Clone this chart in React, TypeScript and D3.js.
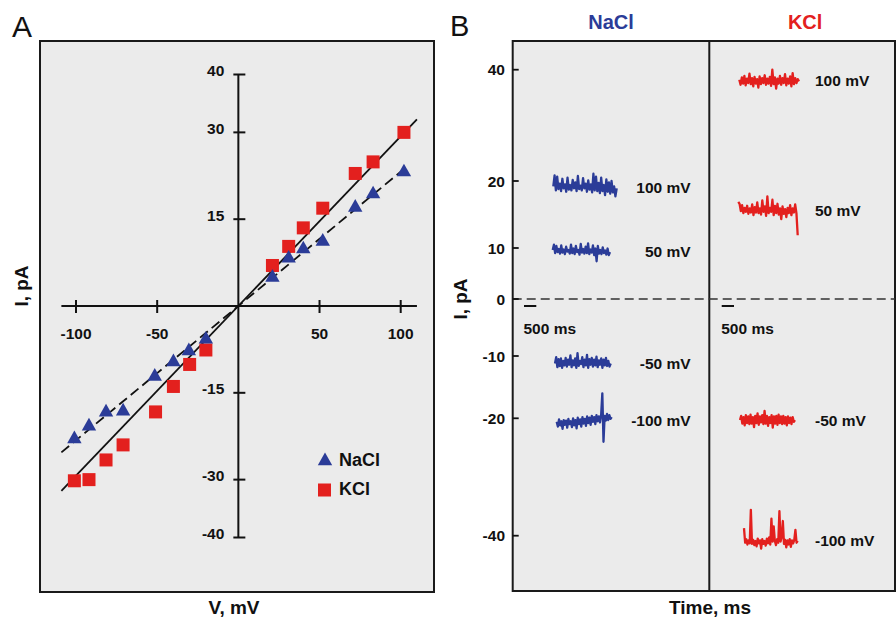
import React from 'react';
import * as d3 from 'd3';

// ---------- Panel A data ----------
const A_TICKS_V = [-100, -50, 50, 100];
const A_TICKS_I = [40, 30, 15, -15, -30, -40];
const V_NACL = [-101, -92, -81.5, -71, -51.5, -40, -30.5, -20, 21, 31, 40, 52, 72, 83, 102];
const I_NACL = [-22.8, -20.6, -18.2, -18.0, -12.0, -9.5, -7.6, -5.6, 5.1, 8.4, 10.0, 11.3, 17.2, 19.5, 23.3];
const V_KCL = [-101, -92, -81.5, -71, -51, -40, -30, -20, 21, 31, 40, 52, 72, 83, 102];
const I_KCL = [-30.2, -30.0, -26.6, -24.0, -18.3, -13.9, -10.1, -7.6, 7.0, 10.3, 13.5, 16.9, 22.9, 24.9, 30.0];
const FIT_SLOPE_NACL = 0.232;
const FIT_SLOPE_KCL = 0.293;
const FIT_RANGE_NACL = [-109, 104];
const FIT_RANGE_KCL = [-109, 110];
const LEGEND_NAMES = ['NaCl', 'KCl'];

// ---------- Panel B data ----------
const B_TICKS = [40, 20, 10, 0, -10, -20, -40];
const B_BREAKS = [-40, -20, -10, 0, 10, 20, 40];
const COLUMN_TITLES = ['NaCl', 'KCl'];
const TRACE_LABELS = ['100 mV', '50 mV', '-50 mV', '-100 mV'];
const SCALE_BAR_MS = 500;

const NACL_100 = [19.2, 21.0, 18.6, 20.8, 18.8, 19.6, 18.5, 20.4, 18.9, 19.5, 18.4, 20.6, 18.7, 19.4, 18.6, 20.2, 18.9, 19.8, 18.5, 20.9, 18.8, 19.3, 18.6, 20.5, 18.9, 19.6, 18.4, 20.1, 18.7, 19.5, 18.3, 21.3, 18.6, 20.8, 18.5, 19.7, 18.2, 20.6, 18.5, 19.4, 17.9, 20.3, 18.4, 19.8, 18.1, 20.0, 18.3, 19.2, 17.7, 18.9];
const NACL_50 = [9.6, 10.5, 9.0, 10.3, 9.2, 9.8, 8.9, 10.4, 9.1, 9.7, 8.8, 10.2, 9.3, 9.6, 8.9, 10.5, 9.0, 9.9, 8.8, 10.3, 9.2, 9.6, 8.7, 10.6, 9.1, 9.8, 8.9, 10.2, 9.0, 10.7, 8.8, 9.7, 9.1, 10.4, 8.6, 9.9, 7.4, 10.3, 8.9, 9.6, 8.8, 10.1, 9.0, 9.5, 8.7, 9.9, 8.6, 9.2];
const NACL_M50 = [-11.2, -10.2, -11.8, -10.5, -11.6, -10.4, -11.9, -10.8, -11.5, -10.3, -11.7, -10.6, -11.4, -9.9, -11.8, -10.7, -11.5, -10.4, -11.9, -9.5, -11.6, -10.8, -11.3, -10.2, -11.8, -10.6, -11.5, -9.8, -11.9, -10.5, -11.4, -10.3, -11.7, -10.6, -11.5, -10.1, -11.8, -10.7, -11.4, -10.4, -11.9, -10.6, -11.5, -10.3, -11.6, -10.8, -11.7, -11.2];
const NACL_M100 = [-20.6, -21.4, -20.2, -21.2, -20.5, -21.8, -20.3, -21.1, -20.4, -21.6, -20.1, -21.0, -20.5, -21.5, -20.0, -21.2, -20.3, -21.7, -19.9, -21.0, -20.2, -21.4, -19.8, -20.9, -20.1, -21.3, -19.7, -20.8, -19.9, -21.1, -19.6, -20.6, -19.8, -21.0, -19.5, -20.5, -19.7, -20.7, -19.4, -16.0, -24.0, -19.6, -20.4, -19.3, -20.3, -19.5, -20.1, -19.8];
const KCL_100 = [38.2, 37.3, 38.6, 37.5, 38.9, 37.2, 38.4, 37.6, 39.3, 37.4, 38.5, 37.0, 38.7, 37.5, 38.3, 36.8, 38.8, 37.4, 38.5, 37.6, 39.0, 37.3, 38.4, 37.5, 38.7, 37.1, 40.0, 37.4, 38.6, 36.6, 38.4, 37.5, 38.9, 37.3, 38.5, 37.6, 39.2, 37.2, 38.4, 37.5, 38.8, 37.0, 39.4, 37.4, 38.5, 37.6, 38.3, 37.9];
const KCL_50 = [16.9, 16.6, 15.5, 16.4, 15.2, 16.0, 15.4, 16.3, 15.1, 15.9, 15.3, 16.5, 14.9, 16.1, 15.3, 16.8, 15.2, 15.9, 15.0, 17.1, 15.4, 16.2, 14.8, 17.7, 15.2, 16.0, 15.4, 17.2, 14.9, 16.3, 15.2, 16.6, 15.0, 15.9, 14.3, 16.2, 15.1, 15.8, 14.6, 16.0, 15.2, 16.4, 14.9, 15.9, 15.3, 16.5, 15.2, 11.9];
const KCL_M50 = [-20.3, -19.6, -20.9, -19.8, -21.2, -19.5, -20.8, -19.7, -21.0, -19.4, -20.9, -19.8, -21.5, -19.6, -20.8, -19.2, -21.1, -19.7, -20.7, -19.5, -21.0, -18.8, -20.9, -19.6, -21.3, -19.8, -20.8, -19.5, -21.6, -19.7, -20.9, -19.6, -21.1, -19.4, -20.8, -19.7, -21.0, -19.6, -20.9, -19.8, -21.2, -19.7, -20.8, -19.9, -21.0, -19.8, -20.6, -20.3];
const KCL_M100 = [-38.7, -41.2, -40.6, -41.5, -40.8, -41.3, -35.6, -41.4, -40.7, -41.6, -40.9, -41.8, -40.5, -41.3, -40.8, -42.2, -40.6, -41.4, -40.9, -41.7, -40.5, -41.3, -40.3, -41.5, -37.1, -41.0, -38.4, -40.9, -41.6, -40.6, -41.2, -35.8, -41.0, -40.2, -37.5, -41.4, -40.7, -42.0, -40.8, -41.5, -40.6, -41.9, -40.8, -41.3, -40.7, -39.0, -41.2, -40.9];

const NACL_TRACES = [NACL_100, NACL_50, NACL_M50, NACL_M100];
const KCL_TRACES = [KCL_100, KCL_50, KCL_M50, KCL_M100];
const NACL_START_MS = [1652, 1628, 1721, 1790];
const NACL_END_MS = [4232, 3960, 3988, 4028];
const KCL_START_MS = [1221, 1180, 1249, 1412];
const KCL_END_MS = [3650, 3597, 3487, 3597];
const SCALE_BAR_START_MS = [460, 505];

const BLUE = '#2b3c98';
const RED = '#e3201e';
const BG = '#ebebeb';
const FONT = "Arial, 'Liberation Sans', Helvetica, sans-serif";

export default function App() {
  // Panel A scales
  const xA = d3.scaleLinear().domain([-100, 100]).range([76, 400.7]);
  const yA = d3.scaleLinear().domain([-40, 40]).range([537.5, 74.5]);

  const kclFit = d3.line<number>().x((v) => xA(v)).y((v) => yA(FIT_SLOPE_KCL * v));
  const naclFit = d3.line<number>().x((v) => xA(v)).y((v) => yA(FIT_SLOPE_NACL * v));

  const tri = (cx: number, cy: number) => `M${cx},${cy - 7.5}L${cx + 7.2},${cy + 5.2}L${cx - 7.2},${cy + 5.2}Z`;

  // Panel B scales
  const yB = d3.scaleLinear().domain(B_BREAKS).range([535.7, 418.3, 356, 299, 248, 181, 69.7]);
  const xN = d3.scaleLinear().domain([0, 8000]).range([512.7, 709.3]);
  const xK = d3.scaleLinear().domain([0, 8000]).range([709.3, 905.9]);

  const tracePath = (vals: number[], t0: number, t1: number, xs: d3.ScaleLinear<number, number>) => {
    const dt = (t1 - t0) / (vals.length - 1);
    return d3.line<number>().x((_, i) => xs(t0 + i * dt)).y((v) => yB(v))(vals) || '';
  };

  const frameA = { x0: 40, y0: 41, x1: 434, y1: 592 };
  const frameB = { x0: 512.7, y0: 41, x1: 895, y1: 591 };
  const divider = xN(8000);

  return (
    <svg width={896} height={621} style={{ position: 'absolute', left: 0, top: 0, background: '#fff' }} fontFamily={FONT}>
      {/* Panel letters */}
      <text x={12} y={36.5} fontSize={30} fill="#111">A</text>
      <text x={450} y={36} fontSize={29} fill="#111">B</text>

      {/* ---------------- Panel A ---------------- */}
      <rect x={frameA.x0} y={frameA.y0} width={frameA.x1 - frameA.x0} height={frameA.y1 - frameA.y0} fill={BG} stroke="#1a1a1a" strokeWidth={2} />
      <line x1={xA(-109)} x2={xA(110)} y1={yA(0)} y2={yA(0)} stroke="#111" strokeWidth={2} />
      <line x1={xA(0)} x2={xA(0)} y1={yA(40)} y2={yA(-40)} stroke="#111" strokeWidth={2} />
      {A_TICKS_V.map((v) => (
        <g key={'tv' + v}>
          <line x1={xA(v)} x2={xA(v)} y1={yA(0) - 6} y2={yA(0) + 7} stroke="#111" strokeWidth={2} />
          <text x={xA(v)} y={yA(0) + 33} fontSize={15.5} fontWeight="bold" textAnchor="middle" fill="#111">{v}</text>
        </g>
      ))}
      {A_TICKS_I.map((v) => (
        <g key={'ti' + v}>
          <line x1={xA(0) - 5} x2={xA(0) + 7} y1={yA(v)} y2={yA(v)} stroke="#111" strokeWidth={2} />
          <text x={xA(0) - 14} y={yA(v) + 1.5} fontSize={15.5} fontWeight="bold" textAnchor="end" fill="#111">{v}</text>
        </g>
      ))}
      <path d={kclFit(FIT_RANGE_KCL) || ''} stroke="#111" strokeWidth={1.8} fill="none" />
      <path d={naclFit(FIT_RANGE_NACL) || ''} stroke="#111" strokeWidth={1.8} fill="none" strokeDasharray="10,5" />
      {V_KCL.map((v, i) => (
        <rect key={'k' + i} x={xA(v) - 6.5} y={yA(I_KCL[i]) - 6.5} width={13} height={13} fill={RED} />
      ))}
      {V_NACL.map((v, i) => (
        <path key={'n' + i} d={tri(xA(v), yA(I_NACL[i]))} fill={BLUE} />
      ))}
      <path d={tri(325, 460)} fill={BLUE} />
      <text x={339} y={466} fontSize={18} fontWeight="bold" fill="#111">{LEGEND_NAMES[0]}</text>
      <rect x={318} y={483.5} width={13} height={13} fill={RED} />
      <text x={339} y={494.5} fontSize={18} fontWeight="bold" fill="#111">{LEGEND_NAMES[1]}</text>
      <text transform="translate(28,286) rotate(-90)" fontSize={19} fontWeight="bold" textAnchor="middle" fill="#111">I, pA</text>
      <text x={234} y={614} fontSize={19} fontWeight="bold" textAnchor="middle" fill="#111">V, mV</text>

      {/* ---------------- Panel B ---------------- */}
      <rect x={frameB.x0} y={frameB.y0} width={frameB.x1 - frameB.x0} height={frameB.y1 - frameB.y0} fill={BG} stroke="#1a1a1a" strokeWidth={2} />
      <line x1={divider} x2={divider} y1={frameB.y0} y2={frameB.y1} stroke="#1a1a1a" strokeWidth={2} />
      <line x1={frameB.x0} x2={frameB.x1} y1={yB(0)} y2={yB(0)} stroke="#333" strokeWidth={1.5} strokeDasharray="9,5" />
      {B_TICKS.map((v) => (
        <g key={'tb' + v}>
          <line x1={frameB.x0} x2={frameB.x0 + 6} y1={yB(v)} y2={yB(v)} stroke="#111" strokeWidth={1.8} />
          <text x={505} y={yB(v) + 5.5} fontSize={15.5} fontWeight="bold" textAnchor="end" fill="#111">{v}</text>
        </g>
      ))}
      <text x={(frameB.x0 + divider) / 2} y={29} fontSize={20} fontWeight="bold" textAnchor="middle" fill={BLUE}>{COLUMN_TITLES[0]}</text>
      <text x={(divider + frameB.x1) / 2 + 3} y={29} fontSize={20} fontWeight="bold" textAnchor="middle" fill={RED}>{COLUMN_TITLES[1]}</text>

      <line x1={xN(SCALE_BAR_START_MS[0])} x2={xN(SCALE_BAR_START_MS[0] + SCALE_BAR_MS)} y1={yB(0) + 7} y2={yB(0) + 7} stroke="#111" strokeWidth={2} />
      <line x1={xK(SCALE_BAR_START_MS[1])} x2={xK(SCALE_BAR_START_MS[1] + SCALE_BAR_MS)} y1={yB(0) + 7} y2={yB(0) + 7} stroke="#111" strokeWidth={2} />
      <text x={xN(SCALE_BAR_START_MS[0]) - 0.5} y={333.5} fontSize={15.5} fontWeight="bold" fill="#111">{SCALE_BAR_MS} ms</text>
      <text x={xK(SCALE_BAR_START_MS[1]) - 0.5} y={333.5} fontSize={15.5} fontWeight="bold" fill="#111">{SCALE_BAR_MS} ms</text>

      {NACL_TRACES.map((vals, i) => (
        <g key={'nt' + i}>
          <path d={tracePath(vals, NACL_START_MS[i], NACL_END_MS[i], xN)} stroke={BLUE} strokeWidth={2.3} fill="none" strokeLinejoin="round" />
          <text x={xN(7240)} y={yB(d3.median(vals) as number) + 5.5} fontSize={15.5} fontWeight="bold" textAnchor="end" fill="#111">{TRACE_LABELS[i]}</text>
        </g>
      ))}
      {KCL_TRACES.map((vals, i) => (
        <g key={'kt' + i}>
          <path d={tracePath(vals, KCL_START_MS[i], KCL_END_MS[i], xK)} stroke={RED} strokeWidth={2.3} fill="none" strokeLinejoin="round" />
          <text x={xK(4300)} y={yB(d3.median(vals) as number) + 5.5} fontSize={15.5} fontWeight="bold" fill="#111">{TRACE_LABELS[i]}</text>
        </g>
      ))}

      <text transform="translate(467,299) rotate(-90)" fontSize={19} fontWeight="bold" textAnchor="middle" fill="#111">I, pA</text>
      <text x={710} y={614} fontSize={19} fontWeight="bold" textAnchor="middle" fill="#111">Time, ms</text>
    </svg>
  );
}
